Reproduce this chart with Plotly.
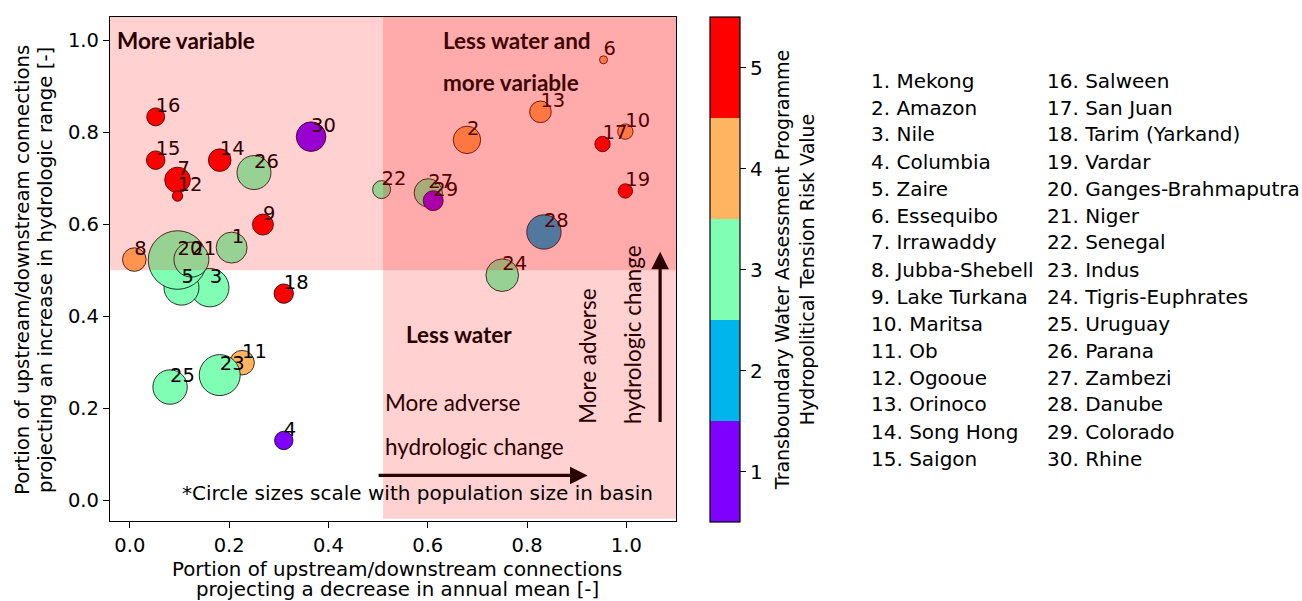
import plotly.graph_objects as go

# Basin list (numbered as in the key)
basins = ["Mekong", "Amazon", "Nile", "Columbia", "Zaire", "Essequibo", "Irrawaddy",
          "Jubba-Shebell", "Lake Turkana", "Maritsa", "Ob", "Ogooue", "Orinoco",
          "Song Hong", "Saigon", "Salween", "San Juan", "Tarim (Yarkand)", "Vardar",
          "Ganges-Brahmaputra", "Niger", "Senegal", "Indus", "Tigris-Euphrates",
          "Uruguay", "Parana", "Zambezi", "Danube", "Colorado", "Rhine"]

# Portion of connections projecting a decrease in annual mean
mean_decrease = [0.205, 0.679, 0.161, 0.310, 0.104, 0.954, 0.096, 0.009, 0.268, 0.998,
                 0.226, 0.096, 0.827, 0.181, 0.052, 0.052, 0.952, 0.310, 0.998, 0.096,
                 0.124, 0.507, 0.181, 0.750, 0.081, 0.250, 0.601, 0.834, 0.611, 0.365]

# Portion of connections projecting an increase in hydrologic range
range_increase = [0.549, 0.783, 0.462, 0.130, 0.462, 0.957, 0.696, 0.523, 0.599, 0.801,
                  0.299, 0.661, 0.844, 0.739, 0.739, 0.833, 0.774, 0.449, 0.672, 0.522,
                  0.523, 0.675, 0.272, 0.489, 0.246, 0.712, 0.668, 0.583, 0.651, 0.790]

# TWAP hydropolitical tension risk value (1-5)
risk = [3, 4, 3, 1, 3, 4, 5, 4, 5, 4,
        4, 5, 4, 5, 5, 5, 5, 5, 5, 3,
        3, 3, 3, 3, 3, 3, 3, 2, 1, 1]

# Relative basin population (bubble area units)
population = [240, 188, 369, 85, 306, 16, 164, 139, 110, 59,
              151, 27, 117, 128, 86, 81, 59, 94, 52, 858,
              306, 81, 420, 266, 296, 289, 200, 296, 100, 219]

risk_ticks = [1, 2, 3, 4, 5]
axis_ticks = [0.0, 0.2, 0.4, 0.6, 0.8, 1.0]

x_title = ["Portion of upstream/downstream connections",
           "projecting a decrease in annual mean [-]"]
y_title = ["Portion of upstream/downstream connections",
           "projecting an increase in hydrologic range [-]"]

# Discrete "rainbow" palette, one band per risk value
band_colors = ["#8000ff", "#00b4ec", "#80ffb4", "#ffb462", "#ff0000"]
colorscale = []
for i, c in enumerate(band_colors):
    colorscale.append([i / 5, c])
    colorscale.append([(i + 1) / 5, c])

W, H = 1302, 601
L, R, T, B = 110, 626, 17, 80
PW, PH = W - L - R, H - T - B


def px_x(p):
    return (p - L) / PW


def px_y(p):
    return (H - B - p) / PH


FONT = "DejaVu Sans"
LATO = "Lato"
NB = "\u00a0"

fig = go.Figure()

fig.add_trace(go.Scatter(
    x=mean_decrease, y=range_increase, mode="markers",
    marker=dict(
        size=population, sizemode="area", sizeref=0.5,
        color=risk, colorscale=colorscale, cmin=0.5, cmax=5.5,
        opacity=1,
        line=dict(color="black", width=0.8),
        colorbar=dict(
            x=px_x(710), xanchor="left", xref="paper", xpad=0, ypad=0,
            y=px_y(522), yanchor="bottom", len=505, lenmode="pixels",
            thickness=30, thicknessmode="pixels",
            outlinecolor="black", outlinewidth=1.2,
            tickmode="array", tickvals=risk_ticks,
            ticktext=[f"{v}{NB}" for v in risk_ticks],
            ticks="outside", ticklen=6, tickwidth=1.2, tickcolor="black",
            tickfont=dict(family=FONT, size=20, color="black"),
            title=dict(text="Transboundary Water Assessment Programme<br>Hydropolitical Tension Risk Value",
                       side="right", font=dict(family=FONT, size=19, color="black")),
        ),
    ),
    hoverinfo="skip", showlegend=False,
))

fig.add_trace(go.Scatter(
    x=mean_decrease, y=range_increase, mode="text",
    text=[str(i + 1) for i in range(len(basins))],
    textposition="top right",
    textfont=dict(family=FONT, size=19.5, color="black"),
    hoverinfo="skip", showlegend=False,
))

# Translucent red bands: upper half (more variable) and right half (less water)
shapes = [
    dict(type="rect", xref="x", yref="y", x0=-0.04, x1=1.1, y0=0.5, y1=1.05,
         fillcolor="rgba(255,0,0,0.18)", line=dict(width=0), layer="above"),
    dict(type="rect", xref="x", yref="y", x0=0.51, x1=1.1, y0=-0.04, y1=1.05,
         fillcolor="rgba(255,0,0,0.18)", line=dict(width=0), layer="above"),
]

ann = []
LIGHT = "#2a0000"
DARK = "#3e0505"
QSIZE = 22.5


def note(x, y, text, color, **kw):
    d = dict(x=x, y=y, xref="x", yref="y", text=text, showarrow=False,
             xanchor="left", yanchor="middle",
             font=dict(family=LATO, size=QSIZE, color=color))
    d.update(kw)
    ann.append(d)


note(-0.03, 1.0, "<b>More variable</b>", LIGHT)
note(0.627, 1.0, "<b>Less water and</b>", DARK)
note(0.627, 0.907, "<b>more variable</b>", DARK)
note(0.552, 0.361, "<b>Less water</b>", LIGHT)
note(0.51, 0.213, "More adverse", LIGHT)
note(0.51, 0.117, "hydrologic change", LIGHT)
note(0.922, 0.162, "More adverse", LIGHT, xanchor="center", yanchor="bottom", textangle=-90)
note(1.011, 0.162, "hydrologic change", LIGHT, xanchor="center", yanchor="bottom", textangle=-90)
ann.append(dict(x=0.101, y=0.015, xref="x", yref="y",
                text="*Circle sizes scale with population size in basin",
                showarrow=False, xanchor="left", yanchor="middle",
                font=dict(family=FONT, size=20, color="black")))

# Direction arrows
ann.append(dict(x=0.922, y=0.054, ax=0.498, ay=0.054, xref="x", yref="y",
                axref="x", ayref="y", text="", showarrow=True,
                arrowhead=2, arrowsize=1.1, arrowwidth=3.2, arrowcolor=LIGHT))
ann.append(dict(x=1.068, y=0.54, ax=1.068, ay=0.167, xref="x", yref="y",
                axref="x", ayref="y", text="", showarrow=True,
                arrowhead=2, arrowsize=1.1, arrowwidth=3.2, arrowcolor=LIGHT))

# Axis titles (two tightly spaced lines each)
for k, line in enumerate(x_title):
    ann.append(dict(x=px_x(397), y=px_y(569 + 20 * k), xref="paper", yref="paper",
                    text=line, showarrow=False, xanchor="center", yanchor="middle",
                    font=dict(family=FONT, size=19.8, color="black")))
for k, line in enumerate(y_title):
    ann.append(dict(x=px_x(22 + 23 * k), y=px_y(270), xref="paper", yref="paper",
                    text=line, showarrow=False, xanchor="center", yanchor="middle",
                    textangle=-90, font=dict(family=FONT, size=19.8, color="black")))

# Basin key in two columns
for i, name in enumerate(basins):
    col, row = divmod(i, 15)
    ann.append(dict(x=px_x(869 if col == 0 else 1045), y=px_y(80.5 + 27 * row),
                    xref="paper", yref="paper", text=f"{i + 1}. {name}",
                    showarrow=False, xanchor="left", yanchor="middle",
                    font=dict(family=FONT, size=20, color="black")))

axis_common = dict(
    showgrid=False, zeroline=False, showline=True, linecolor="black", linewidth=1.3,
    mirror=True, ticks="outside", ticklen=6, tickwidth=1.2, tickcolor="black",
    tickfont=dict(family=FONT, size=19.5, color="black"),
    tickmode="array", tickvals=axis_ticks, ticktext=[f"{v:.1f}" for v in axis_ticks],
)

fig.update_layout(
    width=W, height=H, margin=dict(l=L, r=R, t=T, b=B, autoexpand=False),
    paper_bgcolor="white", plot_bgcolor="white",
    xaxis=dict(range=[-0.04, 1.1], **axis_common),
    yaxis=dict(range=[-0.045, 1.05], **axis_common),
    shapes=shapes, annotations=ann,
)

fig.write_html("out.html")
